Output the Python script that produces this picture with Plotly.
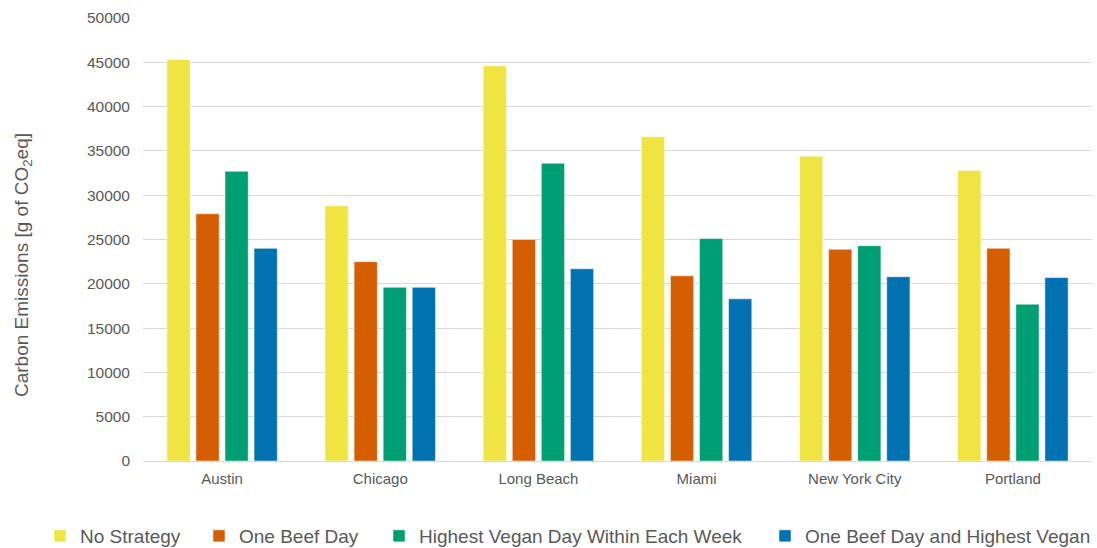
import plotly.graph_objects as go

cities = ["Austin", "Chicago", "Long Beach", "Miami", "New York City", "Portland"]

no_strategy = [45300, 28800, 44600, 36600, 34400, 32800]
one_beef_day = [27900, 22500, 25000, 20900, 23900, 24000]
highest_vegan_day = [32700, 19600, 33600, 25100, 24300, 17700]
beef_and_vegan = [24000, 19600, 21700, 18300, 20800, 20700]

series = [
    ("No Strategy", no_strategy, "#F0E442"),
    ("One Beef Day", one_beef_day, "#D55E00"),
    ("Highest Vegan Day Within Each Week", highest_vegan_day, "#009E73"),
    ("One Beef Day and Highest Vegan", beef_and_vegan, "#0072B2"),
]

# left edge (in pixels) of each legend entry along the bottom row
legend_x = [40, 199, 379, 765]

W, H = 1097, 548
margin = dict(l=143, r=5, t=18, b=87)
plot_w = W - margin["l"] - margin["r"]
plot_h = H - margin["t"] - margin["b"]

font_family = "Liberation Sans, Arial, sans-serif"
text_color = "#595959"

fig = go.Figure()
for i, (name, vals, color) in enumerate(series):
    legend_id = "legend" if i == 0 else f"legend{i + 1}"
    fig.add_trace(go.Bar(
        name=name,
        x=cities,
        y=vals,
        marker=dict(color=color, line=dict(color="rgba(255,255,255,0.5)", width=1)),
        legend=legend_id,
    ))

layout_legends = {}
for i, lx in enumerate(legend_x):
    key = "legend" if i == 0 else f"legend{i + 1}"
    layout_legends[key] = dict(
        xref="container", yref="container",
        x=lx / W, y=(H - 517) / H,
        xanchor="left", yanchor="top",
        orientation="h",
        font=dict(family=font_family, size=19, color=text_color),
        bgcolor="rgba(0,0,0,0)",
        itemwidth=30,
    )

fig.update_layout(
    width=W, height=H,
    margin=margin,
    paper_bgcolor="white", plot_bgcolor="white",
    barmode="group", bargap=0.265, bargroupgap=0.2,
    font=dict(family=font_family, color=text_color),
    showlegend=True,
    **layout_legends,
)

# vertical axis title, placed beside the tick labels
fig.add_annotation(
    text="Carbon Emissions [g of CO<sub>2</sub>eq]",
    textangle=-90,
    xref="paper", yref="paper",
    x=(23 - margin["l"]) / plot_w,
    y=((H - margin["b"]) - 265) / plot_h,
    xanchor="center", yanchor="middle",
    showarrow=False,
    font=dict(family=font_family, size=19, color=text_color),
)

fig.update_yaxes(
    range=[0, 50000],
    tick0=0, dtick=5000,
    tickformat="d",
    showgrid=True, gridcolor="#D9D9D9", gridwidth=1.3,
    zeroline=False,
    showline=False,
    tickfont=dict(size=15.5, color=text_color),
    ticklabelstandoff=12,
)

fig.update_xaxes(
    showline=True, linecolor="#D9D9D9", linewidth=1.3,
    showgrid=False,
    tickfont=dict(size=15, color=text_color),
    ticklabelstandoff=4,
)

fig.write_html("out.html")
